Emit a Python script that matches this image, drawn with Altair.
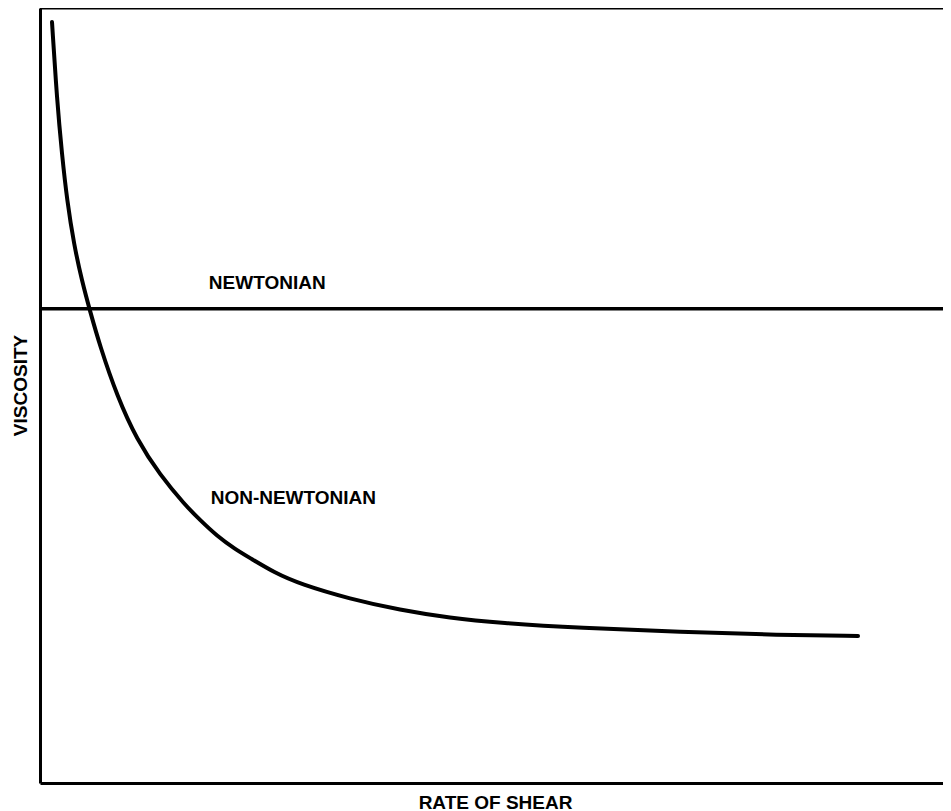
import altair as alt
import pandas as pd

# Non-Newtonian curve (0-100 scales on both axes)
px = [52, 57, 62, 67, 74, 82, 90, 100, 117, 137, 160, 185, 200, 217, 235, 250, 275, 300, 350, 400, 450, 500, 580, 680, 780, 858]
py = [22, 100, 155, 200, 245, 281, 311, 346, 396, 440, 475, 505, 520, 536, 549, 558, 573, 584, 599, 610, 618, 623, 628, 632, 635, 636]
W, H = 903, 775
shear = [round((v - 40) / W * 100, 2) for v in px]
viscosity = [round((783 - v) / H * 100, 2) for v in py]
newtonian_level = 61.2
labels = ["NEWTONIAN", "NON-NEWTONIAN"]
label_x = [18.7, 18.9]
label_y = [64.5, 36.8]

FONT = "Liberation Sans"
FS = 19

curve = pd.DataFrame({"shear": shear, "viscosity": viscosity})
sx = alt.Scale(domain=[0, 100], nice=False, zero=False)
sy = alt.Scale(domain=[0, 100], nice=False, zero=False)
xs = alt.X("shear:Q", scale=sx,
           axis=alt.Axis(title="RATE OF SHEAR", ticks=False, labels=False, grid=False,
                         domainWidth=3, domainColor="black", titlePadding=10,
                         titleFont=FONT, titleFontSize=FS, titleFontWeight="bold",
                         titleColor="black", titleX=455))
ys = alt.Y("viscosity:Q", scale=sy,
           axis=alt.Axis(title="VISCOSITY", ticks=False, labels=False, grid=False,
                         domainWidth=3, domainColor="black", titlePadding=10,
                         titleFont=FONT, titleFontSize=FS, titleFontWeight="bold",
                         titleColor="black", titleY=377))

line = alt.Chart(curve).mark_line(color="black", strokeWidth=4, interpolate="basis",
                                  strokeCap="round").encode(x=xs, y=ys)

newt = alt.Chart(pd.DataFrame({"a": [0], "b": [100], "v": [newtonian_level]})).mark_rule(
    color="black", strokeWidth=3.5).encode(
    x=alt.X("a:Q", scale=sx), x2="b:Q", y=alt.Y("v:Q", scale=sy))

top = alt.Chart(pd.DataFrame({"a": [0], "b": [100], "v": [100]})).mark_rule(
    color="black", strokeWidth=3).encode(
    x=alt.X("a:Q", scale=sx), x2="b:Q", y=alt.Y("v:Q", scale=sy))

txt = alt.Chart(pd.DataFrame({"t": labels, "x": label_x, "y": label_y})).mark_text(
    align="left", baseline="middle", font=FONT, fontSize=FS, fontWeight="bold",
    color="black").encode(
    x=alt.X("x:Q", scale=sx), y=alt.Y("y:Q", scale=sy), text="t:N")

chart = alt.layer(newt, top, line, txt).properties(
    width=W, height=H, autosize="none",
    padding={"left": 32, "top": 0, "right": 0, "bottom": 28},
    background="white",
).configure_view(stroke=None)

chart.save("out.html", embed_options={"renderer": "svg", "actions": False})
